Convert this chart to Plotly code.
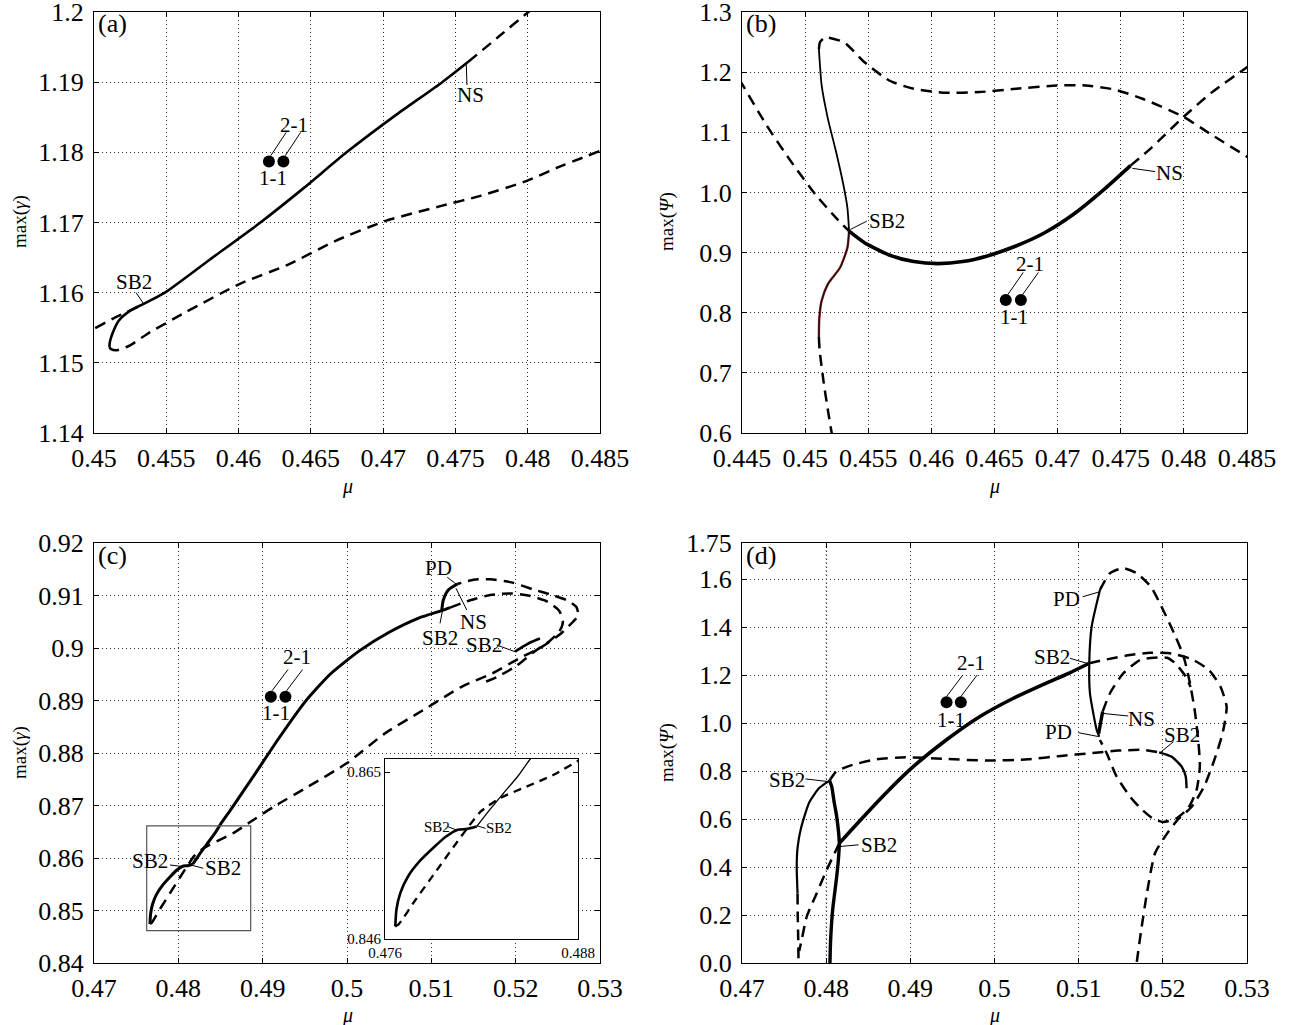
import plotly.graph_objects as go

W, H = 1301, 1025
FONT = "Liberation Serif, Times New Roman, serif"

# ======================= DATA =======================
# ---- Panel (a): max(gamma) vs mu ----
a_solid_mu = [0.45106, 0.45110, 0.45127, 0.45172, 0.45251, 0.45344, 0.45490, 0.45800, 0.46151, 0.46450, 0.46747, 0.47080, 0.47409, 0.47589]
a_solid_y = [1.15226, 1.15300, 1.15415, 1.15604, 1.15745, 1.15840, 1.16000, 1.16470, 1.17000, 1.17490, 1.18000, 1.18520, 1.19000, 1.19290]
a_dash_left_mu = [0.44900, 0.45000, 0.45150, 0.45300, 0.45344]
a_dash_left_y = [1.15380, 1.15486, 1.15650, 1.15795, 1.15840]
a_dash_ns_mu = [0.47589, 0.47800, 0.48004, 0.48100]
a_dash_ns_y = [1.19290, 1.19650, 1.20000, 1.20170]
a_dash_low_mu = [0.45106, 0.45118, 0.45159, 0.45250, 0.45371, 0.45635, 0.46006, 0.46350, 0.46668, 0.47012, 0.47409, 0.47673, 0.47990, 0.48202, 0.48500]
a_dash_low_y = [1.15226, 1.15195, 1.15179, 1.15250, 1.15415, 1.15722, 1.16123, 1.16406, 1.16736, 1.17019, 1.17240, 1.17380, 1.17590, 1.17780, 1.18020]
a_dot_mu = [0.46210, 0.46310]
a_dot_y = [1.17868, 1.17868]
a_lab_text = ["SB2", "NS", "2-1", "1-1"]
a_lab_mu = [0.45278, 0.47602, 0.46382, 0.46236]
a_lab_y = [1.16146, 1.18811, 1.18387, 1.17632]
a_lead = [((0.45291, 1.16000), (0.45344, 1.15840)),
          ((0.47575, 1.19250), (0.47580, 1.18960)),
          ((0.46223, 1.17953), (0.46329, 1.18283)),
          ((0.46323, 1.17953), (0.46429, 1.18283))]

# ---- Panel (b): max(Psi) vs mu ----
b_thin_mu = [0.45109, 0.45131, 0.45180, 0.45245, 0.45303, 0.45335, 0.45348]
b_thin_y = [1.2384, 1.1778, 1.1228, 1.0677, 1.0127, 0.9742, 0.9357]
b_red_mu = [0.45348, 0.45335, 0.45277, 0.45180, 0.45131, 0.45112, 0.45109]
b_red_y = [0.9357, 0.9082, 0.8751, 0.8476, 0.8201, 0.7900, 0.7596]
b_dash_bot_mu = [0.45109, 0.45115, 0.45148, 0.45180, 0.45206, 0.45220]
b_dash_bot_y = [0.7596, 0.7375, 0.6825, 0.6385, 0.6055, 0.5900]
b_dash_top_mu = [0.45109, 0.45118, 0.45150, 0.45180, 0.45310, 0.45471, 0.45666, 0.45860, 0.46119, 0.46378, 0.46670, 0.46994, 0.47220, 0.47447, 0.47673, 0.47997, 0.48224, 0.48500, 0.48560]
b_dash_top_y = [1.2384, 1.2500, 1.2565, 1.2576, 1.2494, 1.2164, 1.1861, 1.1723, 1.1657, 1.1668, 1.1723, 1.1778, 1.1778, 1.1712, 1.1558, 1.1256, 1.0953, 1.0595, 1.0520]
b_dash_diag_mu = [0.44480, 0.44500, 0.44694, 0.44889, 0.45083, 0.45245, 0.45348]
b_dash_diag_y = [1.1876, 1.1806, 1.1118, 1.0512, 0.9962, 0.9577, 0.9357]
b_solid_mu = [0.45348, 0.45471, 0.45666, 0.45860, 0.46054, 0.46249, 0.46443, 0.46670, 0.46897, 0.47123, 0.47350, 0.47577]
b_solid_y = [0.9357, 0.9164, 0.8960, 0.8850, 0.8817, 0.8850, 0.8944, 0.9109, 0.9329, 0.9632, 1.0017, 1.0446]
b_dash_ns_mu = [0.47577, 0.47738, 0.47997, 0.48224, 0.48500, 0.48560]
b_dash_ns_y = [1.0446, 1.0733, 1.1256, 1.1668, 1.2081, 1.2170]
b_dot_mu = [0.46589, 0.46709]
b_dot_y = [0.8212, 0.8212]
b_lab_text = ["NS", "SB2", "2-1", "1-1"]
b_lab_mu = [0.47884, 0.45650, 0.46783, 0.46653]
b_lab_y = [1.0320, 0.9522, 0.8806, 0.7926]
b_lead = [((0.47593, 1.0400), (0.47771, 1.0347)),
          ((0.45358, 0.9384), (0.45488, 0.9522)),
          ((0.46605, 0.8300), (0.46728, 0.8670)),
          ((0.46722, 0.8300), (0.46848, 0.8670))]

# ---- Panel (c): max(gamma) vs mu ----
c_solid_lo_mu = [0.47664, 0.47671, 0.47695, 0.47743, 0.47814, 0.47909, 0.47980, 0.48052, 0.48111, 0.48170]
c_solid_lo_y = [0.84744, 0.84933, 0.85123, 0.85312, 0.85483, 0.85653, 0.85767, 0.85843, 0.85854, 0.85881]
c_solid_hi_mu = [0.48170, 0.48242, 0.48337, 0.48432, 0.48503, 0.48634, 0.48900, 0.49200, 0.49500, 0.49800, 0.50150, 0.50500, 0.50850, 0.51123, 0.51222]
c_solid_hi_y = [0.85881, 0.86051, 0.86260, 0.86468, 0.86650, 0.86950, 0.87580, 0.88300, 0.88970, 0.89500, 0.89950, 0.90300, 0.90570, 0.90711, 0.90768]
c_curl_mu = [0.51123, 0.51142, 0.51201, 0.51308]
c_curl_y = [0.90711, 0.90914, 0.91105, 0.91219]
c_hook_mu = [0.51992, 0.52080, 0.52180, 0.52288]
c_hook_y = [0.89930, 0.90020, 0.90110, 0.90181]
c_dash_main_mu = [0.47664, 0.47683, 0.47790, 0.47909, 0.48028, 0.48111, 0.48194, 0.48313, 0.48479, 0.48646, 0.48861, 0.49133, 0.49540, 0.49996, 0.50450, 0.50904, 0.51358, 0.51721, 0.52039, 0.52311, 0.52538, 0.52680, 0.52742, 0.52720, 0.52620, 0.52450, 0.52200, 0.51950, 0.51700, 0.51500, 0.51308]
c_dash_main_y = [0.84744, 0.84763, 0.85047, 0.85350, 0.85653, 0.85860, 0.86050, 0.86202, 0.86335, 0.86468, 0.86694, 0.86979, 0.87360, 0.87804, 0.88374, 0.88818, 0.89261, 0.89515, 0.89800, 0.90022, 0.90276, 0.90500, 0.90624, 0.90780, 0.90900, 0.91000, 0.91120, 0.91250, 0.91310, 0.91300, 0.91219]
c_dash_inner_mu = [0.51222, 0.51460, 0.51700, 0.51930, 0.52150, 0.52380, 0.52520, 0.52560, 0.52520, 0.52400, 0.52220, 0.52000, 0.51780, 0.51600]
c_dash_inner_y = [0.90768, 0.90910, 0.91010, 0.91040, 0.91000, 0.90880, 0.90700, 0.90500, 0.90320, 0.90130, 0.89930, 0.89650, 0.89450, 0.89330]
c_dot_mu = [0.49097, 0.49270]
c_dot_y = [0.89071, 0.89071]
c_lab_text = ["PD", "NS", "SB2", "SB2", "SB2", "SB2", "2-1", "1-1"]
c_lab_mu = [0.51083, 0.51498, 0.51103, 0.51625, 0.47664, 0.48533, 0.49406, 0.49156]
c_lab_y = [0.91518, 0.90486, 0.90200, 0.90057, 0.85943, 0.85804, 0.89832, 0.88754]
c_lead = [((0.51189, 0.91347), (0.51308, 0.91200)),
          ((0.51420, 0.90724), (0.51292, 0.91137)),
          ((0.51103, 0.90470), (0.51135, 0.90737)),
          ((0.51775, 0.90057), (0.51992, 0.89930)),
          ((0.47901, 0.85867), (0.48059, 0.85835)),
          ((0.48147, 0.85867), (0.48296, 0.85804)),
          ((0.49111, 0.89185), (0.49301, 0.89591)),
          ((0.49283, 0.89185), (0.49474, 0.89591))]
c_zoom_box_mu = [0.47625, 0.48858]
c_zoom_box_y = [0.84615, 0.86610]
# inset (zoom of the box)
inset_lab_text = ["SB2", "SB2"]
inset_lab_mu = [0.47924, 0.48306]
inset_lab_y = [0.85879, 0.85860]
inset_lead = [((0.47992, 0.85879), (0.48044, 0.85841)),
              ((0.48171, 0.85890), (0.48225, 0.85860))]

# ---- Panel (d): max(Psi) vs mu ----
d_left_thin_mu = [0.47660, 0.47650, 0.47660, 0.47700, 0.47800, 0.47920, 0.48040]
d_left_thin_y = [0.290, 0.400, 0.480, 0.560, 0.670, 0.730, 0.760]
d_left_dash_mu = [0.47660, 0.47662, 0.47668, 0.47672]
d_left_dash_y = [0.290, 0.200, 0.100, 0.000]
d_vert_thick_mu = [0.48040, 0.48066, 0.48095, 0.48125, 0.48156, 0.48145, 0.48125, 0.48077, 0.48053, 0.48045]
d_vert_thick_y = [0.760, 0.735, 0.670, 0.610, 0.499, 0.430, 0.360, 0.221, 0.096, 0.000]
d_dash_sb_mu = [0.48156, 0.48006, 0.47887, 0.47769, 0.47709, 0.47680]
d_dash_sb_y = [0.499, 0.3875, 0.290, 0.193, 0.096, 0.050]
d_main_mu = [0.48156, 0.48283, 0.48458, 0.48749, 0.49041, 0.49430, 0.49818, 0.50207, 0.50596, 0.50887, 0.51126]
d_main_y = [0.499, 0.548, 0.615, 0.722, 0.820, 0.930, 1.025, 1.100, 1.163, 1.208, 1.249]
d_dash_mid_mu = [0.48040, 0.48118, 0.48312, 0.48603, 0.48944, 0.49429, 0.49915, 0.50401, 0.50790, 0.51130, 0.51470, 0.51762, 0.51956]
d_dash_mid_y = [0.760, 0.7975, 0.8253, 0.8489, 0.8572, 0.8503, 0.8433, 0.8489, 0.8628, 0.8739, 0.8850, 0.8878, 0.8780]
d_hook_mu = [0.51956, 0.52102, 0.52224, 0.52272, 0.52282]
d_hook_y = [0.878, 0.860, 0.8184, 0.7767, 0.7282]
d_pd_thin_mu = [0.51253, 0.51154, 0.51126, 0.51134, 0.51174, 0.51214, 0.51245]
d_pd_thin_y = [1.554, 1.401, 1.249, 1.124, 1.040, 0.971, 0.943]
d_ns_thick_mu = [0.51285, 0.51260, 0.51237]
d_ns_thick_y = [1.0475, 1.000, 0.955]
d_loop_pd_mu = [0.51253, 0.51273, 0.51372, 0.51530, 0.51689, 0.51859, 0.52005, 0.52151, 0.52248, 0.52320, 0.52380, 0.52420, 0.52440, 0.52400, 0.52300, 0.52150, 0.52000, 0.51870, 0.51720, 0.51609, 0.51451, 0.51333, 0.51253]
d_loop_pd_y = [1.554, 1.568, 1.624, 1.645, 1.624, 1.567, 1.470, 1.360, 1.276, 1.170, 1.050, 0.930, 0.820, 0.720, 0.645, 0.600, 0.588, 0.605, 0.650, 0.694, 0.777, 0.874, 0.929]
d_loop_out_mu = [0.51126, 0.51333, 0.51609, 0.51850, 0.52100, 0.52350, 0.52550, 0.52685, 0.52758, 0.52710, 0.52612, 0.52490, 0.52345, 0.52175, 0.52054, 0.51908, 0.51811, 0.51738, 0.51689]
d_loop_out_y = [1.249, 1.265, 1.283, 1.293, 1.290, 1.265, 1.220, 1.151, 1.068, 0.957, 0.846, 0.735, 0.652, 0.596, 0.541, 0.458, 0.291, 0.125, 0.000]
d_loop_ns_mu = [0.51285, 0.51372, 0.51530, 0.51728, 0.51900, 0.52050, 0.52151, 0.52273, 0.52330]
d_loop_ns_y = [1.0475, 1.124, 1.207, 1.2625, 1.272, 1.272, 1.248, 1.193, 1.150]
d_dot_mu = [0.49430, 0.49600]
d_dot_y = [1.086, 1.086]
d_lab_text = ["PD", "SB2", "NS", "PD", "SB2", "SB2", "SB2", "2-1", "1-1"]
d_lab_mu = [0.50858, 0.50680, 0.51752, 0.50766, 0.52224, 0.47535, 0.48628, 0.49721, 0.49478]
d_lab_y = [1.516, 1.274, 1.015, 0.961, 0.950, 0.763, 0.4924, 1.248, 1.0125]
d_lead = [((0.51047, 1.526), (0.51253, 1.547)),
          ((0.50897, 1.2696), (0.51126, 1.2458)),
          ((0.51273, 1.0404), (0.51589, 1.0292)),
          ((0.50996, 0.9596), (0.51245, 0.9429)),
          ((0.51980, 0.880), (0.52126, 0.922)),
          ((0.47753, 0.767), (0.48020, 0.756)),
          ((0.48166, 0.4855), (0.48385, 0.4924)),
          ((0.49430, 1.110), (0.49624, 1.200)),
          ((0.49600, 1.110), (0.49794, 1.200))]

# ---- tick labels ----
a_xt = [0.45, 0.455, 0.46, 0.465, 0.47, 0.475, 0.48, 0.485]
a_xt_txt = ["0.45", "0.455", "0.46", "0.465", "0.47", "0.475", "0.48", "0.485"]
a_yt = [1.14, 1.15, 1.16, 1.17, 1.18, 1.19, 1.2]
a_yt_txt = ["1.14", "1.15", "1.16", "1.17", "1.18", "1.19", "1.2"]
b_xt = [0.445, 0.45, 0.455, 0.46, 0.465, 0.47, 0.475, 0.48, 0.485]
b_xt_txt = ["0.445", "0.45", "0.455", "0.46", "0.465", "0.47", "0.475", "0.48", "0.485"]
b_yt = [0.6, 0.7, 0.8, 0.9, 1.0, 1.1, 1.2, 1.3]
b_yt_txt = ["0.6", "0.7", "0.8", "0.9", "1.0", "1.1", "1.2", "1.3"]
cd_xt = [0.47, 0.48, 0.49, 0.5, 0.51, 0.52, 0.53]
cd_xt_txt = ["0.47", "0.48", "0.49", "0.5", "0.51", "0.52", "0.53"]
c_yt = [0.84, 0.85, 0.86, 0.87, 0.88, 0.89, 0.9, 0.91, 0.92]
c_yt_txt = ["0.84", "0.85", "0.86", "0.87", "0.88", "0.89", "0.9", "0.91", "0.92"]
d_yt = [0.0, 0.2, 0.4, 0.6, 0.8, 1.0, 1.2, 1.4, 1.6, 1.75]
d_yt_txt = ["0.0", "0.2", "0.4", "0.6", "0.8", "1.0", "1.2", "1.4", "1.6", "1.75"]
inset_xt = [0.476, 0.488]
inset_xt_txt = ["0.476", "0.488"]
inset_yt = [0.846, 0.865]
inset_yt_txt = ["0.846", "0.865"]

# ======================= FIGURE =======================
fig = go.Figure()
DASH = "11px,7px"


def line(mu, y, ax, width, dash=None, color="black", smooth=True):
    xa, ya = ax
    fig.add_trace(go.Scatter(
        x=mu, y=y, xaxis=xa, yaxis=ya, mode="lines",
        line=dict(color=color, width=width, dash=dash,
                  shape="spline" if smooth else "linear", smoothing=0.6),
        hoverinfo="skip", showlegend=False))


def dots(mu, y, ax):
    xa, ya = ax
    fig.add_trace(go.Scatter(x=mu, y=y, xaxis=xa, yaxis=ya, mode="markers",
                             marker=dict(color="black", size=12),
                             hoverinfo="skip", showlegend=False))


def leaders(lead, ax):
    xa, ya = ax
    xs, ys = [], []
    for (p0, p1) in lead:
        xs += [p0[0], p1[0], None]
        ys += [p0[1], p1[1], None]
    fig.add_trace(go.Scatter(x=xs, y=ys, xaxis=xa, yaxis=ya, mode="lines",
                             line=dict(color="black", width=1),
                             hoverinfo="skip", showlegend=False))


A = ("x", "y")
B = ("x2", "y2")
C = ("x3", "y3")
D = ("x4", "y4")
I = ("x5", "y5")

# (a)
line(a_dash_left_mu, a_dash_left_y, A, 2.5, DASH)
line(a_dash_ns_mu, a_dash_ns_y, A, 2.5, DASH)
line(a_dash_low_mu, a_dash_low_y, A, 2.5, DASH)
line(a_solid_mu, a_solid_y, A, 2.6)
leaders(a_lead, A)
dots(a_dot_mu, a_dot_y, A)

# (b)
line(b_dash_bot_mu, b_dash_bot_y, B, 2.5, DASH)
line(b_dash_top_mu, b_dash_top_y, B, 2.5, DASH)
line(b_dash_diag_mu, b_dash_diag_y, B, 2.5, DASH)
line(b_dash_ns_mu, b_dash_ns_y, B, 2.5, DASH)
line(b_thin_mu, b_thin_y, B, 1.8)
line(b_red_mu, b_red_y, B, 2.4, color="#9a2a2a")
line(b_red_mu, b_red_y, B, 1.3, color="#1a0a0a")
line(b_solid_mu, b_solid_y, B, 3.6)
leaders(b_lead, B)
dots(b_dot_mu, b_dot_y, B)

# (c)
line(c_dash_main_mu, c_dash_main_y, C, 2.5, DASH)
line(c_dash_inner_mu, c_dash_inner_y, C, 2.5, DASH)
line(c_solid_lo_mu, c_solid_lo_y, C, 3.0)
line(c_solid_hi_mu, c_solid_hi_y, C, 3.0)
line(c_curl_mu, c_curl_y, C, 3.0)
line(c_hook_mu, c_hook_y, C, 2.6)
leaders(c_lead, C)
dots(c_dot_mu, c_dot_y, C)

# inset
line(c_dash_main_mu, c_dash_main_y, I, 2.3, "8px,6px")
line(c_solid_lo_mu, c_solid_lo_y, I, 2.6)
line(c_solid_hi_mu, c_solid_hi_y, I, 1.3)
leaders(inset_lead, I)

# (d)
line(d_left_dash_mu, d_left_dash_y, D, 2.5, DASH)
line(d_dash_sb_mu, d_dash_sb_y, D, 2.5, DASH)
line(d_dash_mid_mu, d_dash_mid_y, D, 2.5, DASH)
line(d_loop_pd_mu, d_loop_pd_y, D, 2.5, DASH)
line(d_loop_out_mu, d_loop_out_y, D, 2.5, DASH)
line(d_loop_ns_mu, d_loop_ns_y, D, 2.5, DASH)
line(d_left_thin_mu, d_left_thin_y, D, 2.2)
line(d_vert_thick_mu, d_vert_thick_y, D, 3.4)
line(d_main_mu, d_main_y, D, 3.6)
line(d_hook_mu, d_hook_y, D, 2.4)
line(d_pd_thin_mu, d_pd_thin_y, D, 2.2)
line(d_ns_thick_mu, d_ns_thick_y, D, 3.4)
leaders(d_lead, D)
dots(d_dot_mu, d_dot_y, D)

# ======================= LAYOUT =======================
XL = [94 / W, 600 / W]
XR = [742 / W, 1247 / W]
YT = [1 - 433 / H, 1 - 12 / H]
YB = [1 - 963 / H, 1 - 543 / H]
EPS = 1e-7


def ax(domain, anchor, rng, tv, tt, size=26, grid=True, standoff=0):
    return dict(domain=domain, anchor=anchor, range=[rng[0] - EPS, rng[1] + EPS],
                tickvals=tv, ticktext=tt,
                showline=True, linecolor="black", linewidth=1.2, mirror="ticks",
                ticks="inside", ticklen=5, tickcolor="black", tickwidth=1,
                showgrid=grid, gridcolor="#333333", griddash="1px,3px", gridwidth=1,
                zeroline=False, tickfont=dict(family=FONT, size=size, color="black"),
                fixedrange=True, automargin=False, ticklabelstandoff=standoff,
                ticklabeloverflow="allow")


layout = dict(
    width=W, height=H, margin=dict(l=0, r=0, t=0, b=0, autoexpand=False),
    paper_bgcolor="white", plot_bgcolor="white", showlegend=False,
    font=dict(family=FONT, color="black"),
    xaxis=ax(XL, "y", [0.45, 0.485], a_xt, a_xt_txt, standoff=2),
    yaxis=ax(YT, "x", [1.14, 1.2], a_yt, a_yt_txt, standoff=4),
    xaxis2=ax(XR, "y2", [0.445, 0.485], b_xt, b_xt_txt, standoff=2),
    yaxis2=ax(YT, "x2", [0.6, 1.3], b_yt, b_yt_txt, standoff=4),
    xaxis3=ax(XL, "y3", [0.47, 0.53], cd_xt, cd_xt_txt, standoff=2),
    yaxis3=ax(YB, "x3", [0.84, 0.92], c_yt, c_yt_txt, standoff=4),
    xaxis4=ax(XR, "y4", [0.47, 0.53], cd_xt, cd_xt_txt, standoff=2),
    yaxis4=ax(YB, "x4", [0.0, 1.75], d_yt, d_yt_txt, standoff=4),
    xaxis5=ax([385 / W, 578 / W], "y5", [0.476, 0.488], inset_xt, inset_xt_txt, size=15, grid=False),
    yaxis5=ax([1 - 939 / H, 1 - 759 / H], "x5", [0.846, 0.8665], inset_yt, inset_yt_txt, size=15, grid=False),
)
fig.update_layout(**layout)

annotations = []


def label(text, x, y, xref, yref, size=21, **kw):
    d = dict(text=text, x=x, y=y, xref=xref, yref=yref, showarrow=False,
             font=dict(family=FONT, size=size, color="black"),
             xanchor="center", yanchor="middle")
    d.update(kw)
    annotations.append(d)


for t, x, y in zip(a_lab_text, a_lab_mu, a_lab_y):
    label(t, x, y, "x", "y")
for t, x, y in zip(b_lab_text, b_lab_mu, b_lab_y):
    label(t, x, y, "x2", "y2")
for t, x, y in zip(c_lab_text, c_lab_mu, c_lab_y):
    label(t, x, y, "x3", "y3")
for t, x, y in zip(d_lab_text, d_lab_mu, d_lab_y):
    label(t, x, y, "x4", "y4")
for t, x, y in zip(inset_lab_text, inset_lab_mu, inset_lab_y):
    label(t, x, y, "x5", "y5", size=15)

# panel letters
for t, px, py in [("(a)", 96, 7), ("(b)", 744, 7), ("(c)", 96, 539), ("(d)", 744, 539)]:
    label(t, px / W, 1 - py / H, "paper", "paper", size=26, xanchor="left", yanchor="top")

# axis titles
for t, px, py in [("max(<i>γ</i>)", 20, 222), ("max(<i>Ψ</i>)", 667, 222),
                  ("max(<i>γ</i>)", 20, 753), ("max(<i>Ψ</i>)", 667, 753)]:
    label(t, px / W, 1 - py / H, "paper", "paper", size=19, textangle=-90)
for px, py in [(347, 486), (994.5, 486), (347, 1015), (994.5, 1015)]:
    label("<i>μ</i>", px / W, 1 - py / H, "paper", "paper", size=20)

fig.update_layout(annotations=annotations)

shapes = [
    dict(type="rect", xref="x3", yref="y3",
         x0=c_zoom_box_mu[0], x1=c_zoom_box_mu[1], y0=c_zoom_box_y[0], y1=c_zoom_box_y[1],
         line=dict(color="#555555", width=1.2)),
    dict(type="line", xref="x4", yref="y4", x0=0.48, x1=0.48, y0=0.0, y1=1.75,
         line=dict(color="#6f6fd8", width=1, dash="1px,3px"), layer="below"),
]
fig.update_layout(shapes=shapes)

fig.write_html("out.html")
